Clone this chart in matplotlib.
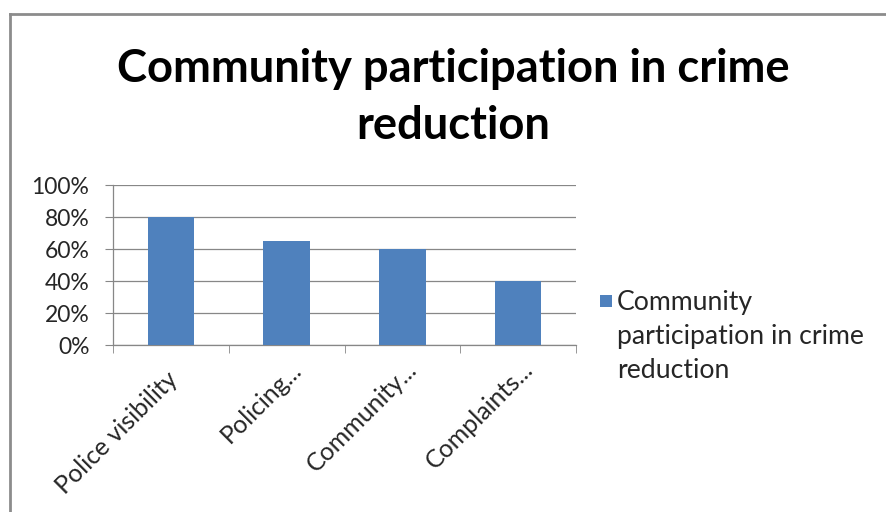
import matplotlib
matplotlib.use('Agg')
import matplotlib.pyplot as plt
from matplotlib.lines import Line2D
from matplotlib.patches import Rectangle
from matplotlib.ticker import PercentFormatter
from matplotlib.transforms import ScaledTranslation

categories = ["Police visibility", "Policing...", "Community...", "Complaints..."]
values = [80, 65, 60, 40]
series_name = "Community\nparticipation in crime\nreduction"
title = "Community participation in crime\nreduction"

BAR_COLOR = "#4F81BD"
GRID_COLOR = "#878787"
TEXT_COLOR = "#262626"
FONT = "Lato"

W, H = 887, 512
fig = plt.figure(figsize=(W / 100, H / 100), dpi=100)
ax = fig.add_axes([113 / W, 1 - 345 / H, 463 / W, 160 / H])

x = range(len(categories))
ax.bar(x, values, width=0.4, color=BAR_COLOR, zorder=3)

ax.set_ylim(0, 100)
ax.set_xlim(-0.5, len(categories) - 0.5)
ax.set_yticks([0, 20, 40, 60, 80, 100])
ax.yaxis.set_major_formatter(PercentFormatter(decimals=0))
ax.yaxis.grid(True, color=GRID_COLOR, linewidth=0.9, zorder=0)

# category labels at centers, tick marks at boundaries
ax.set_xticks(list(x))
ax.set_xticklabels(categories, rotation=45, ha='right', va='center',
                   rotation_mode='anchor', fontsize=18, family=FONT,
                   color=TEXT_COLOR)
ax.tick_params(axis='x', length=0, pad=22)
for lab in ax.get_xticklabels():
    # truncated labels sit a little further up the diagonal, as in Excel
    dx, dy = (11, 10) if lab.get_text().endswith('...') else (3, 0)
    lab.set_transform(lab.get_transform() +
                      ScaledTranslation(dx / 100, dy / 100, fig.dpi_scale_trans))
ax.set_xticks([i - 0.5 for i in range(len(categories) + 1)], minor=True)
ax.tick_params(axis='x', which='minor', length=6, color=GRID_COLOR, direction='out')
ax.tick_params(axis='y', length=6, color=GRID_COLOR, direction='out', pad=11,
               labelsize=16.5, labelcolor=TEXT_COLOR)
for lab in ax.get_yticklabels():
    lab.set_family(FONT)

for side in ['top', 'right']:
    ax.spines[side].set_visible(False)
for side in ['left', 'bottom']:
    ax.spines[side].set_color(GRID_COLOR)
    ax.spines[side].set_linewidth(0.9)

fig.text(0.511, 0.81, title, ha='center', va='center', fontsize=32.7,
         fontweight='bold', family=FONT, color='black', linespacing=1.43)

# legend: square key beside the first line of a wrapped label
fig.add_artist(Rectangle((600 / W, 1 - 307 / H), 12 / W, 12 / H,
                         transform=fig.transFigure, facecolor=BAR_COLOR,
                         edgecolor='none'))
fig.text(617 / W, 1 - 290 / H, series_name, ha='left', va='top',
         fontsize=19.2, family=FONT, color=TEXT_COLOR, linespacing=1.45)

# chart border (top and left edges visible)
fig.add_artist(Line2D([10 / W, 1], [1 - 14 / H] * 2, transform=fig.transFigure,
                      color="#8c8c8c", linewidth=2))
fig.add_artist(Line2D([10 / W] * 2, [0, 1 - 14 / H], transform=fig.transFigure,
                      color="#8c8c8c", linewidth=2))

fig.savefig("out.png", dpi=100)
